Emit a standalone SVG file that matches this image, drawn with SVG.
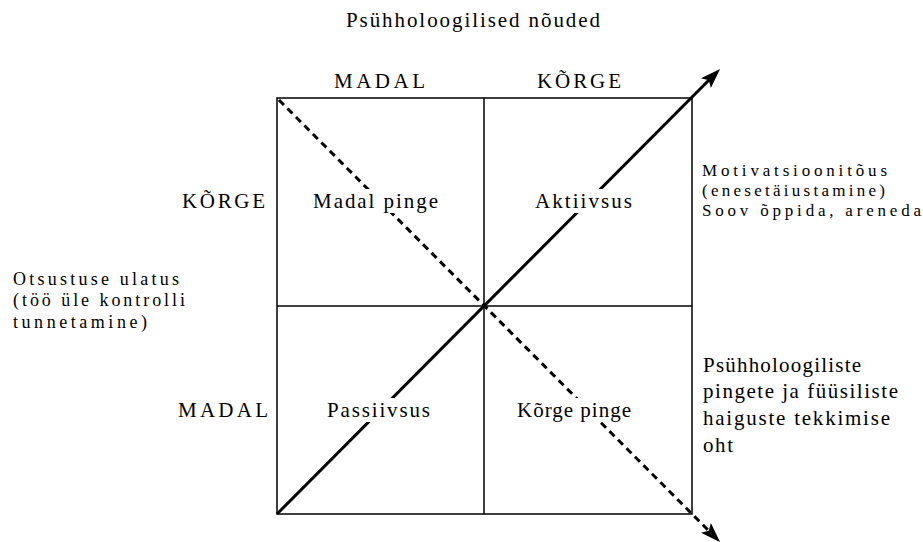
<svg xmlns="http://www.w3.org/2000/svg" width="923" height="542" viewBox="0 0 923 542">
<style>
text{font-family:"Liberation Serif","DejaVu Serif",serif;font-size:21px;fill:#000}
.sm{font-size:17px}
.md{font-size:18px}
.grid{stroke:#000;stroke-width:1.5;fill:none}
.diag{stroke:#000;stroke-width:3;fill:none}
.dash{stroke-dasharray:7 5}
.bg{fill:#fff}
</style>
<defs>
<marker id="ah" viewBox="0 0 20 14" refX="10" refY="7" markerWidth="20" markerHeight="14" markerUnits="userSpaceOnUse" orient="auto">
<path d="M0,0 L20,7 L0,14 L4,7 Z" fill="#000"/>
</marker>
</defs>
<g id="title"><text x="346" y="27" textLength="254" lengthAdjust="spacing">Psühholoogilised nõuded</text></g>
<g id="grid">
<rect class="grid" x="277" y="98" width="415" height="416"/>
<line class="grid" x1="484" y1="98" x2="484" y2="514"/>
<line class="grid" x1="277" y1="306" x2="692" y2="306"/>
</g>
<g id="connectors">
<line class="diag" x1="277" y1="514" x2="713" y2="76" marker-end="url(#ah)"/>
<line class="diag dash" x1="279" y1="100" x2="713" y2="535" marker-end="url(#ah)"/>
</g>
<g id="col-labels">
<text x="334" y="88" textLength="91" lengthAdjust="spacing">MADAL</text>
<text x="537" y="88" textLength="84" lengthAdjust="spacing">KÕRGE</text>
</g>
<g id="row-labels">
<text x="182" y="208" textLength="83" lengthAdjust="spacing">KÕRGE</text>
<text x="178" y="417" textLength="90" lengthAdjust="spacing">MADAL</text>
</g>
<g id="q-madal-pinge"><rect class="bg" x="310" y="189" width="131" height="24"/><text x="313" y="208" textLength="125" lengthAdjust="spacing">Madal pinge</text></g>
<g id="q-aktiivsus"><rect class="bg" x="532" y="189" width="103" height="24"/><text x="535" y="208" textLength="97" lengthAdjust="spacing">Aktiivsus</text></g>
<g id="q-passiivsus"><rect class="bg" x="324" y="398" width="109" height="24"/><text x="327" y="417" textLength="103" lengthAdjust="spacing">Passiivsus</text></g>
<g id="q-korge-pinge"><rect class="bg" x="514" y="398" width="120" height="24"/><text x="517" y="417" textLength="114" lengthAdjust="spacing">Kõrge pinge</text></g>
<g id="left-axis">
<text class="md" x="13" y="285" textLength="166" lengthAdjust="spacing">Otsustuse ulatus</text>
<text class="md" x="13" y="306" textLength="172" lengthAdjust="spacing">(töö üle kontrolli</text>
<text class="md" x="13" y="328" textLength="134" lengthAdjust="spacing">tunnetamine)</text>
</g>
<g id="motivation">
<text class="sm" x="702" y="176" textLength="185" lengthAdjust="spacing">Motivatsioonitõus</text>
<text class="sm" x="702" y="196" textLength="183" lengthAdjust="spacing">(enesetäiustamine)</text>
<text class="sm" x="702" y="216" textLength="219" lengthAdjust="spacing">Soov õppida, areneda</text>
</g>
<g id="risk">
<text x="703" y="372" textLength="158" lengthAdjust="spacing">Psühholoogiliste</text>
<text x="703" y="398" textLength="195" lengthAdjust="spacing">pingete ja füüsiliste</text>
<text x="703" y="425" textLength="187" lengthAdjust="spacing">haiguste tekkimise</text>
<text x="703" y="452" textLength="30" lengthAdjust="spacing">oht</text>
</g>
</svg>
